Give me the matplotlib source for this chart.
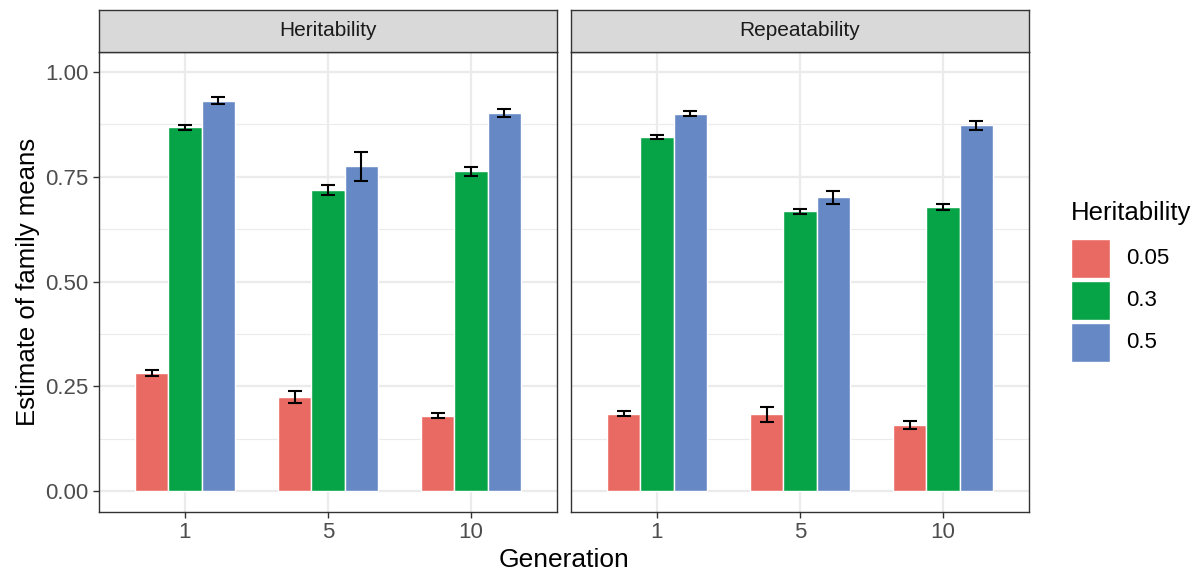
import numpy as np
import matplotlib
matplotlib.use("Agg")
import matplotlib.pyplot as plt
from matplotlib.patches import Rectangle

plt.rcParams['font.family'] = ['Liberation Sans', 'DejaVu Sans']

generations = ['1', '5', '10']
heritability_levels = ['0.05', '0.3', '0.5']
facets = ['Heritability', 'Repeatability']

# mean estimate per facet, rows = heritability level, columns = generation
herit_means = [
    [0.281, 0.224, 0.180],
    [0.868, 0.719, 0.763],
    [0.932, 0.775, 0.903],
]
herit_err = [
    [0.0075, 0.015, 0.0055],
    [0.0065, 0.012, 0.011],
    [0.009, 0.034, 0.010],
]
repeat_means = [
    [0.185, 0.183, 0.158],
    [0.846, 0.668, 0.677],
    [0.901, 0.701, 0.873],
]
repeat_err = [
    [0.0055, 0.017, 0.010],
    [0.005, 0.0055, 0.007],
    [0.005, 0.016, 0.010],
]

colors = ['#E96A62', '#07A447', '#6689C5']
grid_col = '#EBEBEB'
border_col = '#333333'

fig = plt.figure(figsize=(12.02, 5.74), dpi=100)

W, H = 1202, 574
panel_x = [99, 571]
panel_w = 458
panel_top, panel_bottom = 52, 512
strip_top = 10

bar_w = 0.233
x = np.arange(len(generations))

data = [(herit_means, herit_err), (repeat_means, repeat_err)]
for i, (facet, (means, errs)) in enumerate(zip(facets, data)):
    ax = fig.add_axes([panel_x[i] / W, 1 - panel_bottom / H,
                       panel_w / W, (panel_bottom - panel_top) / H])
    for j in range(len(heritability_levels)):
        pos = x + (j - 1) * bar_w
        ax.bar(pos, means[j], width=bar_w, color=colors[j],
               edgecolor='white', linewidth=1.0, zorder=3)
        ax.errorbar(pos, means[j], yerr=errs[j], fmt='none', ecolor='black',
                    elinewidth=1.5, capsize=4.7, capthick=1.5, zorder=4)

    ax.set_xlim(-0.6, 2.6)
    ax.set_ylim(-0.05, 1.048)
    ax.set_xticks(x)
    ax.set_xticklabels(generations)
    ax.set_yticks([0, 0.25, 0.5, 0.75, 1.0])
    ax.set_yticks([0.125, 0.375, 0.625, 0.875], minor=True)
    ax.set_xticks([], minor=True)
    ax.grid(which='major', color=grid_col, linewidth=1.6, zorder=0)
    ax.grid(which='minor', axis='y', color=grid_col, linewidth=0.8, zorder=0)
    ax.set_axisbelow(True)
    for sp in ax.spines.values():
        sp.set_color(border_col)
        sp.set_linewidth(1.0)
    ax.tick_params(axis='both', which='major', length=4, color=border_col,
                   labelcolor='#4D4D4D', labelsize=16, width=1.0)
    ax.tick_params(axis='y', which='minor', length=0)
    if i == 0:
        ax.set_yticklabels(['0.00', '0.25', '0.50', '0.75', '1.00'])
        ax.set_ylabel('Estimate of family means', fontsize=18.5, color='black', labelpad=4)
    else:
        ax.tick_params(axis='y', which='both', left=False, labelleft=False)

    # facet strip
    sax = fig.add_axes([panel_x[i] / W, 1 - panel_top / H,
                        panel_w / W, (panel_top - strip_top) / H])
    sax.set_xticks([])
    sax.set_yticks([])
    sax.set_facecolor('#D9D9D9')
    for sp in sax.spines.values():
        sp.set_color(border_col)
        sp.set_linewidth(1.0)
    sax.text(0.5, 0.5, facet, ha='center', va='center', fontsize=15,
             color='#1A1A1A', transform=sax.transAxes)

fig.text((99 + 1029) / 2 / W, 1 - 560 / H, 'Generation', ha='center', va='center',
         fontsize=19)

# legend drawn in pixel units
fig.text(1071 / W, 1 - 213 / H, 'Heritability', ha='left', va='center', fontsize=18.5)
key_top = 239
for j, (lab, c) in enumerate(zip(heritability_levels, colors)):
    y0 = key_top + j * 42
    fig.patches.append(Rectangle((1071 / W, 1 - (y0 + 39) / H), 39 / W, 39 / H,
                                 transform=fig.transFigure, facecolor=c,
                                 edgecolor='white', linewidth=1.0))
    fig.text(1126 / W, 1 - (y0 + 19.5) / H, lab, ha='left', va='center', fontsize=16)

fig.savefig('out.png', dpi=100)
